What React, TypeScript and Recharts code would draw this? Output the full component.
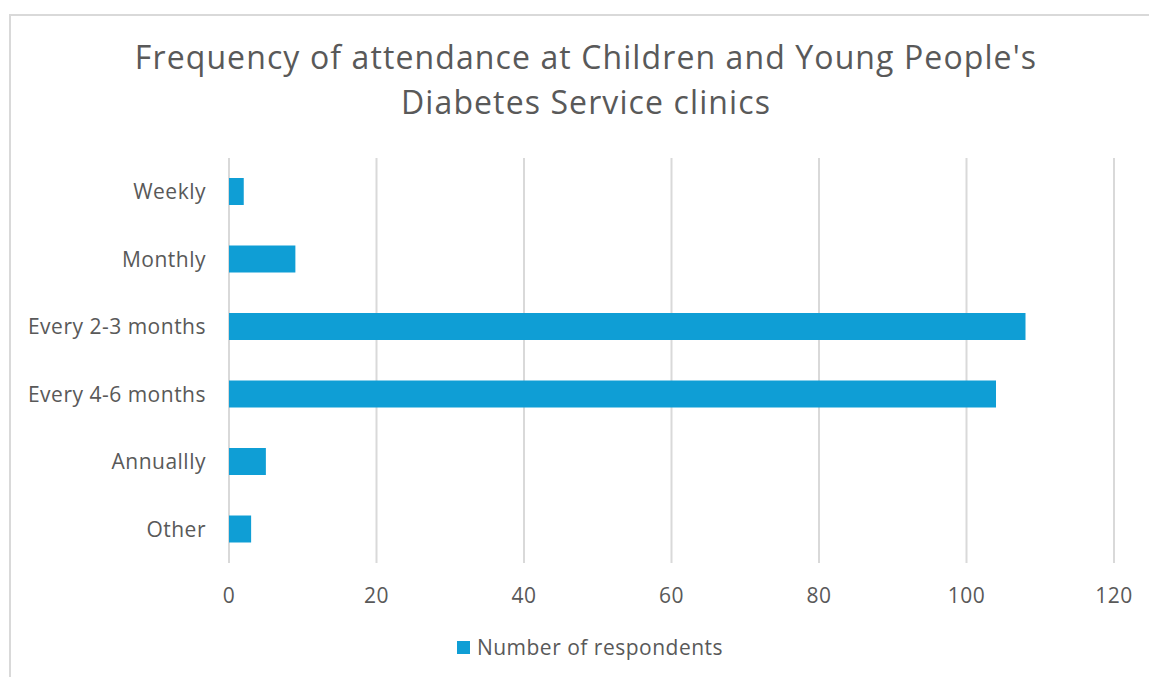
import React from "react";
import { BarChart, Bar, XAxis, YAxis, CartesianGrid } from "recharts";

const categories = ["Weekly", "Monthly", "Every 2-3 months", "Every 4-6 months", "Annuallly", "Other"];
const respondents = [2, 9, 108, 104, 5, 3];
const xTicks = [0, 20, 40, 60, 80, 100, 120];
const titleLines = ["Frequency of attendance at Children and Young People's", "Diabetes Service clinics"];
const seriesName = "Number of respondents";

const data = categories.map((c, i) => ({ category: c, value: respondents[i] }));

const FONT = "'Open Sans', 'Liberation Sans', sans-serif";
const TEXT = "#595959";
const BAR = "#0F9ED5";

export default function App() {
  return (
    <div style={{ position: "absolute", left: 0, top: 0, width: 1149, height: 677, background: "#fff", overflow: "hidden" }}>
      <div style={{ position: "absolute", left: 9, top: 14, width: 1300, height: 700, border: "2px solid #D9D9D9", boxSizing: "border-box" }} />
      <div style={{ position: "absolute", left: 0, top: 34, width: 1172, textAlign: "center", fontFamily: FONT, fontSize: 32, lineHeight: "45px", letterSpacing: 1.1, color: TEXT }}>
        {titleLines.map((l, i) => (
          <div key={i}>{l}</div>
        ))}
      </div>
      <div style={{ position: "absolute", left: 0, top: 0 }}>
        <BarChart
          width={1149}
          height={677}
          data={data}
          layout="vertical"
          margin={{ top: 158, right: 35, bottom: 84, left: 9 }}
        >
          <CartesianGrid horizontal={false} stroke="#D9D9D9" strokeWidth={2} />
          <XAxis
            type="number"
            domain={[0, 120]}
            ticks={xTicks}
            axisLine={false}
            tickLine={false}
            tickSize={0}
            tickMargin={25}
            height={30}
            tick={{ fill: TEXT, fontSize: 21, fontFamily: FONT, letterSpacing: 0.5 }}
          />
          <YAxis
            type="category"
            dataKey="category"
            width={220}
            axisLine={false}
            tickLine={false}
            tickSize={0}
            tickMargin={23}
            tick={{ fill: TEXT, fontSize: 21, fontFamily: FONT, letterSpacing: 0.5 }}
          />
          <Bar dataKey="value" name={seriesName} fill={BAR} barSize={27} isAnimationActive={false} />
        </BarChart>
      </div>
      <div style={{ position: "absolute", left: 0, top: 633, width: 1180, display: "flex", justifyContent: "center", alignItems: "center", fontFamily: FONT, fontSize: 21, letterSpacing: 0.5, color: TEXT }}>
        <span style={{ display: "inline-block", width: 13, height: 13, background: BAR, marginRight: 7 }} />
        <span>{seriesName}</span>
      </div>
    </div>
  );
}
